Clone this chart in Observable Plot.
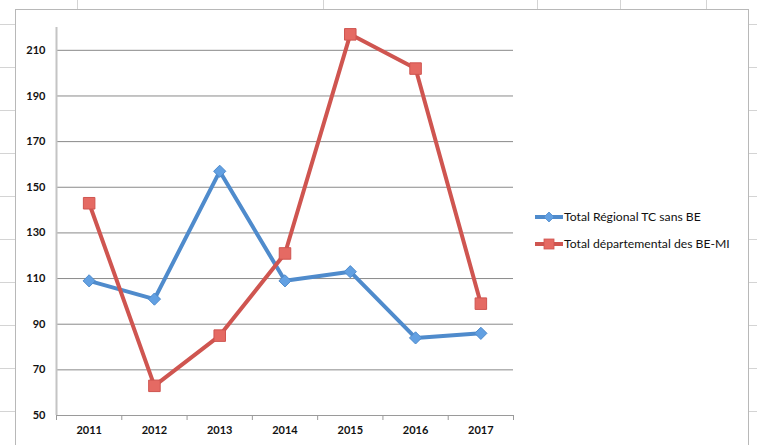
<!DOCTYPE html>
<html>
<head>
<meta charset="utf-8">
<script src="https://cdn.jsdelivr.net/npm/d3@7"></script>
<script src="https://cdn.jsdelivr.net/npm/@observablehq/plot@0.6"></script>
<style>
  html, body { margin: 0; padding: 0; background: #fff; }
  #wrap { position: relative; width: 757px; height: 445px; overflow: hidden; background: #fff; }
  .sheet-left { position: absolute; left: 0; top: 0; width: 15px; height: 445px;
    background: repeating-linear-gradient(to bottom, transparent 0 24px, #d4d4d4 24px 25px, transparent 25px 43px); }
  .sheet-right { position: absolute; left: 749px; top: 0; width: 8px; height: 445px;
    background: repeating-linear-gradient(to bottom, transparent 0 24px, #d4d4d4 24px 25px, transparent 25px 43px); }
  .vline { position: absolute; top: 0; width: 1px; height: 9px; background: #d4d4d4; }
  .frame { position: absolute; left: 15px; top: 9px; width: 732px; height: 460px; border: 1px solid #b8b8b8; background: #fff; }
  #chart { position: absolute; left: 0; top: 0; }
  .legend { position: absolute; left: 535px; top: 203px; font-family: Lato, "Open Sans", sans-serif; font-size: 12.2px; color: #111; }
  .legend .row { display: flex; align-items: center; height: 27px; }
  .legend svg { margin-right: 1px; }
</style>
</head>
<body>
<div id="wrap">
  <div class="sheet-left"></div>
  <div class="sheet-right"></div>
  <div class="vline" style="left:77px"></div>
  <div class="vline" style="left:323px"></div>
  <div class="vline" style="left:537px"></div>
  <div class="vline" style="left:620px"></div>
  <div class="vline" style="left:706px"></div>
  <div class="frame"></div>
  <div id="chart"></div>
  <div class="legend" id="legend"></div>
</div>
<script>
const years = [2011, 2012, 2013, 2014, 2015, 2016, 2017];
const regional = [109, 101, 157, 109, 113, 84, 86];
const departemental = [143, 63, 85, 121, 217, 202, 99];
const yTicks = [50, 70, 90, 110, 130, 150, 170, 190, 210];
const seriesNames = ["Total Régional TC sans BE", "Total départemental des BE-MI"];

const blueLine = "#4f8bcc", blueMark = "#62a0e2";
const redLine = "#cf5550", redMark = "#e56a63";

const dataBlue = years.map((y, i) => ({year: y, value: regional[i]}));
const dataRed = years.map((y, i) => ({year: y, value: departemental[i]}));
const bounds = [years[0] - 0.5, ...years.map(y => y + 0.5)];

const chart = Plot.plot({
  width: 757,
  height: 445,
  marginLeft: 56,
  marginRight: 244,
  marginTop: 27,
  marginBottom: 30,
  style: {background: "transparent", fontFamily: "Lato, 'Open Sans', sans-serif", fontSize: "11px", fontWeight: "bold", color: "#111"},
  x: {domain: [years[0] - 0.5, years[years.length - 1] + 0.5]},
  y: {domain: [50, 220]},
  marks: [
    Plot.ruleY(yTicks.slice(1), {stroke: "#8a8a8a", strokeWidth: 1, strokeOpacity: 1}),
    Plot.ruleY([50], {stroke: "#9a9a9a", strokeWidth: 1.2}),
    Plot.ruleX([years[0] - 0.5], {y1: 50, y2: 220, stroke: "#c4c4c4", strokeWidth: 2}),
    Plot.axisY({ticks: yTicks, tickSize: 0, tickPadding: 11, label: null, fontWeight: "bold"}),
    Plot.axisX({ticks: bounds, tickSize: 5, tickFormat: () => "", stroke: "#9a9a9a", label: null}),
    Plot.axisX({ticks: years, tickSize: 0, tickPadding: 11, tickFormat: d => String(d), label: null}),
    Plot.line(dataBlue, {x: "year", y: "value", stroke: blueLine, strokeWidth: 4, strokeLinejoin: "round"}),
    Plot.line(dataRed, {x: "year", y: "value", stroke: redLine, strokeWidth: 4, strokeLinejoin: "round"}),
    Plot.dot(dataBlue, {x: "year", y: "value", symbol: "diamond2", r: 5.5, fill: blueMark, stroke: blueLine, strokeWidth: 1}),
    Plot.dot(dataRed, {x: "year", y: "value", symbol: "square", r: 6.5, fill: redMark, stroke: redLine, strokeWidth: 1})
  ]
});
document.getElementById("chart").append(chart);

// legend
const legend = d3.select("#legend");
const items = [
  {name: seriesNames[0], line: blueLine, mark: blueMark, sym: "diamond"},
  {name: seriesNames[1], line: redLine, mark: redMark, sym: "square"}
];
items.forEach(it => {
  const row = legend.append("div").attr("class", "row");
  const s = row.append("svg").attr("width", 28).attr("height", 14);
  s.append("line").attr("x1", 0).attr("x2", 28).attr("y1", 7).attr("y2", 7)
    .attr("stroke", it.line).attr("stroke-width", 4);
  if (it.sym === "diamond") {
    s.append("path").attr("d", "M14,2 L19,7 L14,12 L9,7 Z").attr("fill", it.mark).attr("stroke", it.line).attr("stroke-width", 0.8);
  } else {
    s.append("rect").attr("x", 9).attr("y", 2).attr("width", 10).attr("height", 10).attr("fill", it.mark).attr("stroke", it.line).attr("stroke-width", 0.8);
  }
  row.append("span").text(it.name);
});
</script>
</body>
</html>
